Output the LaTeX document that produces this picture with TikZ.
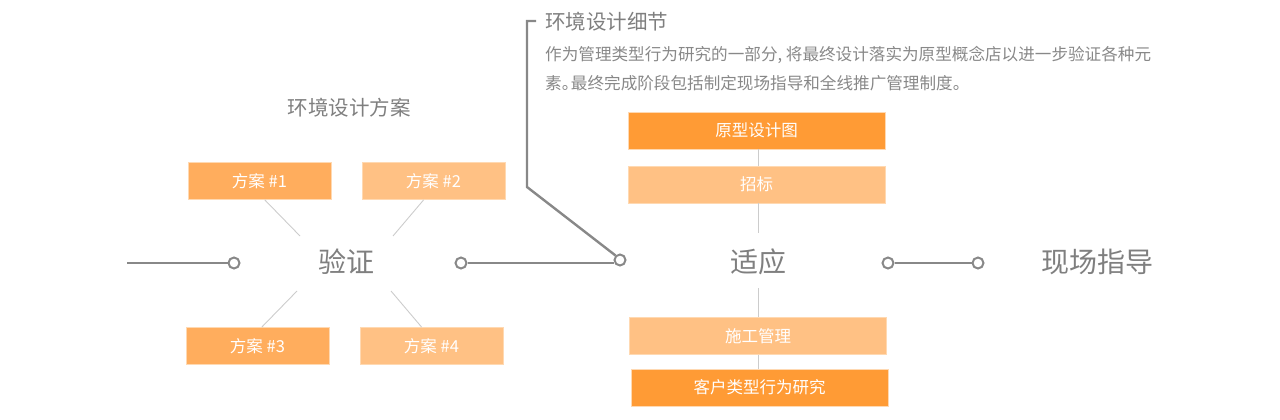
\documentclass[tikz,border=0pt]{standalone}
\usepackage{fontspec}
\setmainfont{Noto Sans CJK SC}
\definecolor{cgray}{HTML}{888888}
\definecolor{lgray}{HTML}{CCCCCC}
\definecolor{tgray}{HTML}{7F7F7F}
\definecolor{odark}{HTML}{FF9B35}
\definecolor{omed}{HTML}{FFAD5D}
\definecolor{olight}{HTML}{FFC184}
\tikzset{
  conn/.style={draw=cgray, line width=2.4pt},
  dot/.style={circle, draw=cgray, line width=2pt, fill=white, minimum size=11pt, inner sep=0pt},
  thinln/.style={draw=lgray, line width=0.9pt},
  box/.style={minimum height=37pt, inner sep=0pt, text=white, draw=white!70!orange, line width=0.6pt, font=\fontsize{16.5}{18}\selectfont},
  sbox/.style={box, minimum width=143pt},
  wbox/.style={box, minimum width=257pt},
  big/.style={text=tgray, inner sep=0pt, font=\fontsize{28}{30}\selectfont},
  mid/.style={text=tgray, inner sep=0pt, font=\fontsize{20.5}{22}\selectfont},
  body/.style={text=cgray, inner sep=0pt, anchor=west, font=\fontsize{16.6}{18}\selectfont},
}
\begin{document}
\begin{tikzpicture}[x=1pt,y=-1pt]
\useasboundingbox (0,0) rectangle (1280,420);
% main line nodes
\coordinate (s) at (127,263);
\node[dot] (c1) at (234,263) {};
\node[dot] (c2) at (461,263) {};
\node[dot] (c3) at (620,260) {};
\node[dot] (c4) at (888,263) {};
\node[dot] (c5) at (978,263) {};
\node[big] (yz) at (346,262) {验证};
\node[big] (sy) at (758,262) {适应};
\node[big] (xc) at (1097,262) {现场指导};
\draw[conn] (s) -- (c1.west);
\draw[conn] (c2.east) -- (c3.west |- c2.east);
\draw[conn] (c4.east) -- (c5.west);
% bracket
\coordinate (k1) at (527,187);
\coordinate (k2) at (527,21);
\coordinate (k3) at (536,21);
\draw[conn, line join=miter] (c3.north west) -- (k1) -- (k2) -- (k3);
\node[mid, anchor=west] (t1) at (545,22) {环境设计细节};
\node[body] (t2) at (545,55) {作为管理类型行为研究的一部分, 将最终设计落实为原型概念店以进一步验证各种元};
\node[body] (t3) at (545,83) {素\makebox[0.55em][l]{。}最终完成阶段包括制定现场指导和全线推广管理制度。};
% left cluster
\node[mid] (t4) at (349,108) {环境设计方案};
\node[sbox, fill=omed] (b1) at (259.5,181) {方案 \#1};
\node[sbox, fill=olight] (b2) at (433.5,181) {方案 \#2};
\node[sbox, fill=omed] (b3) at (257.5,346) {方案 \#3};
\node[sbox, fill=olight] (b4) at (431.5,346) {方案 \#4};
\coordinate (p1) at (300,236);
\coordinate (p2) at (393,236);
\coordinate (p3) at (297,291);
\coordinate (p4) at (391,291);
\draw[thinln] (b1.south west) ++(77,0) -- (p1);
\draw[thinln] (b2.south west) ++(62,0) -- (p2);
\draw[thinln] (b3.north west) ++(76,0) -- (p3);
\draw[thinln] (b4.north west) ++(62,0) -- (p4);
% right column
\node[wbox, fill=odark] (r1) at (756.5,130.5) {原型设计图};
\node[wbox, fill=olight] (r2) at (756.5,184.5) {招标};
\node[wbox, fill=olight] (r3) at (758,336) {施工管理};
\node[wbox, fill=odark] (r4) at (759.5,387.5) {客户类型行为研究};
\coordinate (v1) at (758,233);
\coordinate (v2) at (758,288);
\draw[thinln] (r1.south -| v1) -- (r2.north -| v1);
\draw[thinln] (r2.south -| v1) -- (v1);
\draw[thinln] (v2) -- (r3.north -| v2);
\draw[thinln] (r3.south -| v2) -- (r4.north -| v2);
\end{tikzpicture}
\end{document}
